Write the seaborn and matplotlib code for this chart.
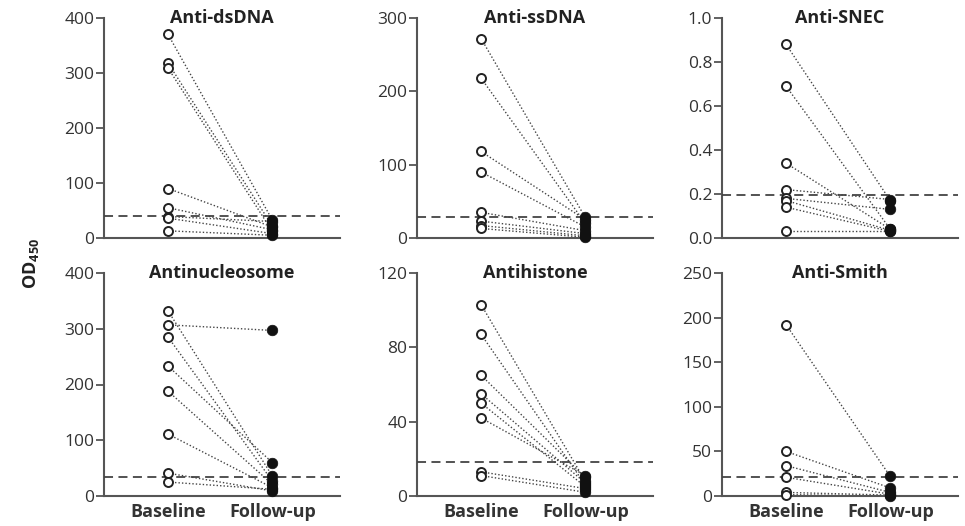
import pandas as pd
import matplotlib.pyplot as plt
import seaborn as sns

# panel titles, y ranges and cutoff values
titles = ['Anti-dsDNA', 'Anti-ssDNA', 'Anti-SNEC', 'Antinucleosome', 'Antihistone', 'Anti-Smith']
ymax = [400, 300, 1.0, 400, 120, 250]
ystep = [100, 100, 0.2, 100, 40, 50]
cutoffs = [40, 29, 0.195, 34, 18.5, 21]

# paired values (baseline -> follow-up)
dsdna_base = [370, 318, 309, 90, 55, 39, 36, 13]
dsdna_follow = [33, 22, 12, 20, 15, 30, 8, 5]
ssdna_base = [272, 218, 118, 90, 35, 23, 17, 13]
ssdna_follow = [28, 20, 25, 15, 10, 6, 3, 1]
snec_base = [0.88, 0.69, 0.34, 0.22, 0.18, 0.17, 0.14, 0.03]
snec_follow = [0.17, 0.04, 0.04, 0.175, 0.13, 0.035, 0.03, 0.03]
nucleo_base = [332, 307, 285, 233, 188, 111, 41, 25]
nucleo_follow = [36, 297, 27, 60, 21, 15, 9, 12]
histone_base = [103, 87, 65, 55, 50, 42, 13, 11]
histone_follow = [8, 6, 10, 7, 5, 11, 4, 2]
smith_base = [192, 50, 34, 21, 4, 1.5]
smith_follow = [22, 9, 4, 2, 1, 0]

baselines = [dsdna_base, ssdna_base, snec_base, nucleo_base, histone_base, smith_base]
followups = [dsdna_follow, ssdna_follow, snec_follow, nucleo_follow, histone_follow, smith_follow]
time_labels = ['Baseline', 'Follow-up']

sns.set_style('white')
plt.rcParams['font.family'] = ['Open Sans', 'DejaVu Sans']
plt.rcParams['mathtext.fontset'] = 'custom'
plt.rcParams['mathtext.bf'] = 'Open Sans:bold'
plt.rcParams['mathtext.rm'] = 'Open Sans'

fig = plt.figure(figsize=(9.65, 5.26), dpi=100)
W, H = 965, 526
lefts = [104, 417, 722]
tops = [18, 273]
bottoms = [238, 496]

axis_col = '#555555'
text_col = '#333333'

for i, title in enumerate(titles):
    row, col = divmod(i, 3)
    x0 = lefts[col]
    ax = fig.add_axes([x0 / W, 1 - bottoms[row] / H, 236 / W, (bottoms[row] - tops[row]) / H])

    b = baselines[i]
    f = followups[i]
    n = len(b)
    df = pd.DataFrame({
        'subject': list(range(n)) * 2,
        'pos': [0] * n + [1] * n,
        'value': b + f,
    })

    sns.lineplot(data=df, x='pos', y='value', units='subject', estimator=None,
                 color='#444444', linestyle=(0, (1, 1.5)), linewidth=1.0, ax=ax, zorder=2)
    sns.scatterplot(data=df[df['pos'] == 0], x='pos', y='value', ax=ax, s=42,
                    facecolor='white', edgecolor='#222222', linewidth=1.4, zorder=4, clip_on=False)
    sns.scatterplot(data=df[df['pos'] == 1], x='pos', y='value', ax=ax, s=58,
                    color='#111111', edgecolor='#111111', linewidth=0.5, zorder=4, clip_on=False)

    ax.axhline(cutoffs[i], color='#444444', linestyle=(0, (5, 3)), linewidth=1.3, zorder=3)

    ax.set_xlim(-0.615, 1.65)
    ax.set_ylim(0, ymax[i])
    step = ystep[i]
    ticks = [k * step for k in range(int(round(ymax[i] / step)) + 1)]
    ax.set_yticks(ticks)
    if ymax[i] <= 1:
        ax.set_yticklabels([f'{t:.1f}' for t in ticks])
    else:
        ax.set_yticklabels([f'{t:g}' for t in ticks])

    if row == 1:
        ax.set_xticks([0, 1])
        ax.set_xticklabels(time_labels, fontsize=13, fontweight='bold', color=text_col)
    else:
        ax.set_xticks([])
    ax.tick_params(axis='x', length=0, pad=5)
    ax.tick_params(axis='y', length=6, width=1.3, color=axis_col, labelsize=12.5,
                   labelcolor=text_col, pad=1, left=True)
    ax.set_xlabel('')
    ax.set_ylabel('')

    for side in ['top', 'right']:
        ax.spines[side].set_visible(False)
    for side in ['left', 'bottom']:
        ax.spines[side].set_color(axis_col)
        ax.spines[side].set_linewidth(1.5)

    ax.text(0.5, 1.0, title, transform=ax.transAxes, ha='center', va='center',
            fontsize=13, fontweight='bold', color='#222222')

fig.text(0.032, 0.5, r'$\mathbf{OD}_{\mathbf{450}}$', rotation=90, ha='center', va='center',
         fontsize=13, color='#222222')

fig.savefig('out.png', dpi=100)
